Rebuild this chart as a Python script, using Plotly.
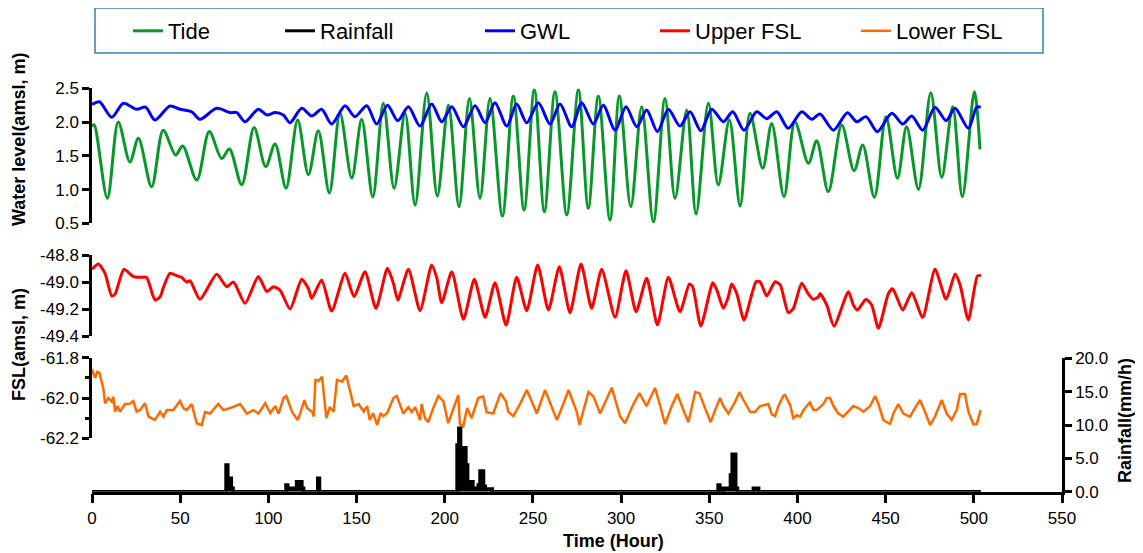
import plotly.graph_objects as go

# ---------------- data ----------------
tide_hour = [0, 1.2, 8.7, 14.9, 21.5, 26.3, 33.8, 40.4, 47.4, 51.4, 59.4, 66.5, 73.5, 77.9, 84.9,
             91.9, 98.5, 103.8, 110, 116.6, 122.7, 128.3, 134.6, 140.6, 147.3, 152.9, 159.2, 165.2,
             171.3, 177.5, 183.2, 189.8, 195.8, 202.1, 208.1, 214.0, 220.0, 225.7, 232.7, 238.9,
             245.0, 250.8, 256.5, 262.5, 269.2, 275.8, 281.4, 287.1, 293.7, 299.0, 305.5, 311.7,
             318.3, 324.9, 330.6, 337.2, 342.5, 349.5, 355.1, 361.4, 367.5, 373.1, 380.3, 385.4,
             392.4, 398.6, 406.2, 410.9, 417.5, 425.1, 432.1, 437.0, 443.6, 450.2, 456.7, 461.9,
             468.6, 475.6, 481.8, 488.0, 493.5, 500.3, 503.5]
tide_m = [1.93, 1.96, 0.87, 2.0, 1.41, 1.76, 1.04, 1.88, 1.51, 1.645, 1.14, 1.86, 1.46, 1.60, 1.07,
          1.92, 1.34, 1.675, 1.02, 2.03, 1.22, 1.87, 0.95, 2.13, 1.17, 2.04, 0.89, 2.28,
          1.02, 2.13, 0.77, 2.43, 0.905, 2.25, 0.746, 2.35, 0.87, 2.35, 0.608, 2.386,
          0.697, 2.48, 0.672, 2.45, 0.623, 2.48, 0.722, 2.386, 0.549, 2.386, 0.746, 2.227,
          0.52, 2.35, 0.87, 2.18, 0.638, 2.278, 1.067, 2.03, 0.756, 2.13, 1.315, 1.98,
          0.894, 2.005, 1.389, 1.724, 0.968, 1.956, 1.279, 1.66, 0.885, 2.08, 1.167, 1.93,
          1.004, 2.435, 1.18, 2.227, 0.894, 2.45, 1.596]

gwl_hour = [0, 4.2, 11.2, 17.8, 25.3, 30.4, 35.7, 44.2, 49.9, 56.5, 61.2, 70.7, 78.3, 82.1, 86.8,
            94.3, 99.1, 103.8, 108.5, 112.3, 118.9, 124.6, 130.2, 135.9, 143.5, 149.1, 155.8,
            161.4, 167.5, 173.4, 179.4, 186.0, 192.6, 198.3, 204.0, 210.6, 217.2, 222.9, 228.5,
            235.2, 240.8, 246.5, 253.1, 259.7, 265.4, 272.0, 277.7, 284.3, 289.9, 296.6, 302.8,
            308.9, 314.5, 320.6, 326.8, 333.4, 339.1, 345.2, 351.4, 358.0, 363.3, 369.7, 376.9,
            382.6, 388.3, 394.8, 402.4, 408.1, 412.8, 420.4, 428.3, 433.6, 438.9, 445.3, 453.5,
            459.7, 464.8, 471.0, 478.0, 484.3, 489.4, 496.9, 501.6, 503.9]
gwl_m = [2.26, 2.30, 2.07, 2.278, 2.19, 2.22, 2.03, 2.238, 2.19, 2.153, 2.04, 2.204, 2.14, 2.14, 2.005,
         2.19, 2.105, 2.14, 2.105, 1.99, 2.204, 2.09, 2.19, 1.97, 2.24, 2.08, 2.24,
         1.97, 2.25, 2.02, 2.227, 1.94, 2.267, 2.005, 2.227, 1.93, 2.24, 1.99, 2.287,
         1.94, 2.267, 1.99, 2.287, 1.97, 2.267, 1.93, 2.287, 1.97, 2.25, 1.88, 2.227,
         1.93, 2.18, 1.857, 2.19, 1.94, 2.153, 1.872, 2.19, 2.005, 2.153, 1.88, 2.153,
         2.05, 2.153, 1.907, 2.153, 2.04, 2.119, 1.88, 2.139, 2.005, 2.08, 1.857, 2.13,
         1.97, 2.09, 1.88, 2.22, 2.02, 2.204, 1.907, 2.22, 2.22]

upper_hour = [0, 3.6, 7.4, 11.2, 13.1, 18.1, 23.4, 27.2, 30.9, 35.7, 38.6, 40.5, 44.2, 48.0, 50.8,
              53.7, 55.6, 61.2, 70.7, 76.4, 80.2, 86.8, 94.3, 99.1, 102.8, 106.6, 112.3, 118.9,
              122.7, 124.6, 130.2, 135.9, 143.5, 148.6, 154.8, 161.0, 167.5, 170.9, 173.4, 179.4,
              186.0, 192.6, 195.5, 198.3, 204.0, 210.6, 216.8, 222.9, 228.5, 234.8, 240.8, 246.5,
              252.7, 258.8, 265.0, 271.0, 277.3, 283.3, 289.0, 296.6, 302.8, 308.5, 314.5, 320.6,
              326.8, 333.4, 338.7, 340.6, 345.2, 352.0, 354.3, 358.0, 360.8, 362.7, 365.6, 369.7,
              376.5, 378.8, 382.6, 387.3, 390.2, 394.8, 397.7, 402.4, 406.2, 409.0, 411.9, 412.8,
              416.6, 420.7, 428.9, 431.7, 434.0, 438.9, 442.1, 445.9, 451.6, 454.0, 459.7, 464.8,
              471.0, 478.0, 484.3, 489.4, 492.2, 496.9, 502.0, 504.0]
upper_m = [-48.906, -48.867, -48.936, -49.104, -49.09, -48.906, -48.96, -48.965, -48.965, -49.133,
           -49.11, -49.04, -48.936, -48.953, -48.965, -49.0, -48.99, -49.128, -48.943, -49.035,
           -49.0, -49.158, -48.96, -49.07, -49.035, -49.06, -49.2, -48.98, -49.05, -49.121,
           -48.985, -49.215, -48.936, -49.109, -48.924, -49.195, -48.899, -49.01, -49.133,
           -48.906, -49.212, -48.874, -48.97, -49.153, -48.924, -49.276, -48.98, -49.262,
           -49.005, -49.319, -48.965, -49.212, -48.874, -49.207, -48.887, -49.227, -48.867,
           -49.195, -48.906, -49.262, -48.916, -49.22, -48.973, -49.319, -48.965, -49.22,
           -49.015, -49.035, -49.326, -49.005, -49.06, -49.195, -49.11, -49.015, -49.085,
           -49.281, -48.998, -48.998, -49.104, -48.998, -49.02, -49.227, -49.195, -49.01,
           -49.09, -49.128, -49.11, -49.085, -49.17, -49.326, -49.072, -49.17, -49.207,
           -49.128, -49.17, -49.343, -49.084, -49.05, -49.207, -49.079, -49.262, -48.906,
           -49.128, -48.941, -49.02, -49.281, -48.956, -48.95]

lower_hour = [0, 1.7, 3.0, 4.2, 6.4, 7.4, 9.3, 11.2, 12.1, 13.1, 14.4, 15.9, 18.7, 21.5, 23.4, 25.3,
              27.2, 30.1, 32.0, 35.7, 38.6, 40.5, 42.4, 46.1, 49.9, 51.8, 53.7, 56.5, 59.4, 62.2,
              64.1, 66.9, 71.6, 74.5, 78.3, 84.0, 87.8, 91.5, 94.4, 98.2, 101.1, 103.9, 105.8,
              108.6, 110.2, 113.4, 116.6, 118.1, 120.4, 121.9, 124.8, 125.7, 126.7, 128.6, 130.4,
              132.9, 134.8, 137.0, 138.9, 141.8, 144.2, 146.1, 148.4, 151.2, 154.1, 156.0, 157.5,
              159.4, 161.7, 163.6, 165.2, 167.3, 170.9, 172.8, 176.5, 179.4, 181.3, 183.2, 186.0,
              186.9, 188.8, 190.7, 193.5, 196.4, 199.2, 202.0, 205.8, 207.7, 208.6, 210.5, 212.7,
              215.2, 219.0, 221.8, 223.7, 227.5, 231.7, 234.7, 236.0, 238.9, 242.7, 246.5, 249.3,
              252.2, 256.9, 260.7, 263.6, 267.0, 270.2, 274.9, 276.4, 281.5, 284.3, 288.1, 294.7,
              299.4, 302.2, 307.0, 310.4, 314.5, 319.2, 322.1, 324.9, 328.7, 331.9, 335.3, 338.2,
              342.0, 344.4, 347.6, 350.8, 353.3, 356.1, 358.0, 360.8, 364.6, 367.1, 369.4, 373.2,
              376.0, 378.8, 381.6, 383.5, 385.4, 387.3, 389.2, 392.0, 393.0, 395.8, 397.7, 399.6,
              401.5, 403.4, 406.2, 407.1, 409.0, 410.9, 412.8, 414.7, 416.6, 418.5, 420.4, 423.2,
              426.0, 428.9, 431.7, 434.5, 437.4, 441.2, 444.0, 445.9, 448.7, 450.6, 452.5, 454.4,
              457.2, 460.0, 463.8, 466.6, 469.5, 472.3, 475.2, 478.0, 481.8, 484.6, 487.4, 490.3,
              492.2, 495.0, 496.9, 499.7, 501.6, 503.9]
lower_m = [-61.856, -61.9, -61.87, -61.875, -61.952, -62.026, -62.0, -62.018, -61.995, -62.068,
           -62.04, -62.068, -62.03, -62.028, -62.015, -62.068, -62.06, -62.026, -62.092, -62.109,
           -62.068, -62.092, -62.06, -62.06, -62.015, -62.05, -62.06, -62.03, -62.125, -62.134,
           -62.07, -62.077, -62.03, -62.06, -62.05, -62.03, -62.077, -62.06, -62.077, -62.026,
           -62.075, -62.04, -62.077, -62.0, -61.99, -62.068, -62.109, -62.075, -62.01, -62.05,
           -62.068, -62.092, -61.91, -61.915, -61.894, -62.1, -62.045, -62.068, -61.91, -61.918,
           -61.888, -61.96, -62.04, -62.03, -62.068, -62.04, -62.109, -62.075, -62.134, -62.075,
           -62.09, -62.075, -62.0, -61.99, -62.077, -62.045, -62.07, -62.045, -62.109, -62.03,
           -62.1, -62.12, -62.05, -61.99, -62.016, -62.125, -62.03, -61.985, -62.13, -62.14,
           -62.05, -62.1, -62.0, -61.992, -62.07, -62.077, -61.976, -62.016, -62.068, -62.09,
           -62.03, -61.96, -62.016, -62.077, -61.96, -62.04, -62.109, -62.035, -61.96, -62.07,
           -62.134, -61.97, -61.992, -62.077, -61.949, -62.09, -62.125, -62.03, -61.976, -62.04,
           -61.95, -62.035, -62.13, -62.04, -61.98, -62.06, -62.12, -61.97, -61.976, -62.05,
           -62.12, -62.06, -62.0, -62.04, -62.077, -62.02, -61.97, -62.01, -62.07, -62.07,
           -62.04, -62.035, -62.03, -62.08, -62.09, -62.04, -61.99, -61.985, -62.035, -62.1,
           -62.085, -62.092, -62.06, -62.03, -62.022, -62.06, -62.06, -62.045, -62.03, -62.0,
           -62.0, -62.04, -62.077, -62.092, -62.068, -62.04, -62.05, -62.068, -62.04, -61.99,
           -62.03, -62.109, -62.12, -62.128, -62.077, -62.03, -62.077, -62.092, -62.05, -62.01,
           -62.068, -62.134, -62.092, -62.01, -62.077, -62.109, -62.06, -61.98, -61.98, -62.068,
           -62.13, -62.13, -62.06]

rain_hour = [0, 76, 77, 79, 80, 110, 111, 116, 119, 120, 128, 129, 207, 208, 209, 212, 213, 215,
             216, 219, 220, 222, 223, 227, 355, 356, 358, 362, 363, 365, 366, 375, 378, 504]
rain_mmh = [0, 4.0, 2.0, 0.5, 0, 1.0, 0.5, 1.5, 0.5, 0, 2.0, 0, 7.0, 9.5, 6.6, 4.0, 0.5, 1.5,
            0.5, 1.0, 3.1, 0.8, 0.4, 0, 1.0, 0, 0.5, 2.5, 5.6, 0.5, 0, 0.5, 0, 0]

x_ticks = [0, 50, 100, 150, 200, 250, 300, 350, 400, 450, 500, 550]
upper_ticks = [-48.8, -49.0, -49.2, -49.4]
upper_tick_text = ["-48.8", "-49.0", "-49.2", "-49.4"]
lower_ticks = [-61.8, -62.0, -62.2]
lower_tick_text = ["-61.8", "-62.0", "-62.2"]

# ---------------- styling ----------------
# the page body adds an 8 px offset, so the figure is sized to fill the rest of the window
OFF = 8
W, H = 1143 - OFF, 553 - OFF
FONT = "Liberation Sans, Arial, sans-serif"
GREEN, BLUE, RED, ORANGE = "#08982A", "#0000FF", "#FF0000", "#FF6A00"


def px_x(p):
    """window pixel column -> paper fraction"""
    return (p - OFF) / W


def px_y(p):
    """window pixel row -> paper fraction"""
    return 1 - (p - OFF) / H


fig = go.Figure()
fig.add_trace(go.Scatter(x=tide_hour, y=tide_m, name="Tide", mode="lines", yaxis="y",
                         legend="legend",
                         line=dict(color=GREEN, width=3, shape="spline", smoothing=0.9)))
fig.add_trace(go.Scatter(x=[None], y=[None], name="Rainfall", mode="lines", yaxis="y4",
                         legend="legend2", line=dict(color="black", width=3)))
fig.add_trace(go.Scatter(x=gwl_hour, y=gwl_m, name="GWL", mode="lines", yaxis="y",
                         legend="legend3",
                         line=dict(color=BLUE, width=3, shape="spline", smoothing=0.8)))
fig.add_trace(go.Scatter(x=upper_hour, y=upper_m, name="Upper FSL", mode="lines", yaxis="y2",
                         legend="legend4",
                         line=dict(color=RED, width=3, shape="spline", smoothing=0.6)))
fig.add_trace(go.Scatter(x=lower_hour, y=lower_m, name="Lower FSL", mode="lines", yaxis="y3",
                         legend="legend5", line=dict(color=ORANGE, width=2.5)))
fig.add_trace(go.Scatter(x=rain_hour, y=rain_mmh, name="Rainfall", mode="lines", yaxis="y4",
                         showlegend=False, fill="tozeroy", fillcolor="black",
                         line=dict(color="black", width=3.5, shape="hv")))

axis_common = dict(showline=True, linecolor="black", linewidth=2.5, ticks="outside",
                   ticklen=7, tickwidth=2.5, tickcolor="black", showgrid=False, zeroline=False,
                   automargin=False,
                   tickfont=dict(family=FONT, size=17, color="black"))


def legend_at(xpx):
    return dict(orientation="h", x=px_x(xpx), y=px_y(31), xanchor="left", yanchor="middle",
                bgcolor="rgba(0,0,0,0)", borderwidth=0,
                font=dict(family=FONT, size=22, color="black"))


fig.update_layout(
    width=W, height=H, autosize=False,
    margin=dict(l=0, r=0, t=0, b=0, autoexpand=False),
    paper_bgcolor="white", plot_bgcolor="rgba(0,0,0,0)",
    font=dict(family=FONT, color="black"),
    xaxis=dict(domain=[px_x(92), px_x(1062)], range=[0, 550], anchor="y4",
               tickvals=x_ticks, **{**axis_common, "ticklen": 9}),
    yaxis=dict(domain=[px_y(223.3), px_y(88.3)], range=[0.5, 2.5], anchor="x",
               dtick=0.5, tickformat=".1f", **axis_common),
    yaxis2=dict(domain=[px_y(336), px_y(255)], range=[-49.4, -48.8], anchor="x",
                tickvals=upper_ticks, ticktext=upper_tick_text, **axis_common),
    yaxis3=dict(domain=[px_y(438.3), px_y(357.7)], range=[-62.2, -61.8], anchor="x",
                tickvals=lower_ticks, ticktext=lower_tick_text,
                minor=dict(dtick=0.1, ticks="outside", ticklen=4, tickwidth=2.5, tickcolor="black"),
                **axis_common),
    yaxis4=dict(domain=[px_y(491.7), px_y(358.3)], range=[0, 20], anchor="x", side="right",
                dtick=5, tickformat=".1f", **axis_common),
    showlegend=True,
    legend=legend_at(128),
    legend2=legend_at(280),
    legend3=legend_at(480),
    legend4=legend_at(655),
    legend5=legend_at(856),
    shapes=[dict(type="rect", xref="paper", yref="paper", x0=px_x(95), x1=px_x(1043),
                 y0=px_y(53), y1=px_y(8), line=dict(color="#3A7FA6", width=1.5))],
    annotations=[
        dict(text="<b>Water level(amsl, m)</b>", xref="paper", yref="paper", x=px_x(19), y=px_y(140),
             textangle=-90, showarrow=False, xanchor="center", yanchor="middle",
             font=dict(family=FONT, size=18, color="black")),
        dict(text="<b>FSL(amsl, m)</b>", xref="paper", yref="paper", x=px_x(19), y=px_y(345),
             textangle=-90, showarrow=False, xanchor="center", yanchor="middle",
             font=dict(family=FONT, size=18, color="black")),
        dict(text="<b>Rainfall(mm/h)</b>", xref="paper", yref="paper", x=px_x(1125), y=px_y(421),
             textangle=-90, showarrow=False, xanchor="center", yanchor="middle",
             font=dict(family=FONT, size=18, color="black")),
        dict(text="<b>Time (Hour)</b>", xref="paper", yref="paper", x=px_x(613), y=px_y(541),
             showarrow=False, xanchor="center", yanchor="middle",
             font=dict(family=FONT, size=18, color="black")),
    ],
)

fig.write_html("out.html")
